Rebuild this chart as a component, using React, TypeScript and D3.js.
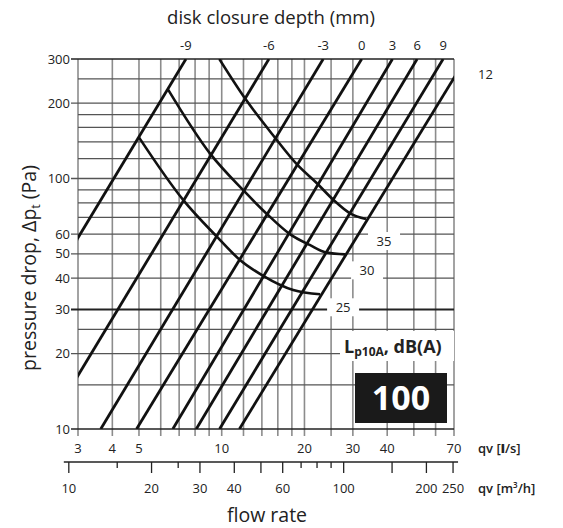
import * as d3 from "d3";

// grid lines / ticks (l/s and Pa)
const flowGrid = [3, 4, 5, 6, 7, 8, 9, 10, 12, 14, 16, 18, 20, 25, 30, 40, 50, 60, 70];
const flowLabels = [3, 4, 5, 10, 20, 30, 40, 70];
const dpGrid = [10, 15, 20, 25, 30, 40, 50, 60, 70, 80, 90, 100, 120, 140, 160, 180, 200, 250, 300];
const dpLabels = [10, 20, 30, 40, 50, 60, 100, 200, 300];
const m3hTicks = [10, 15, 20, 25, 30, 40, 50, 60, 70, 80, 90, 100, 150, 200, 250];
const m3hLabels = [10, 20, 30, 40, 60, 100, 200, 250];

// disk closure settings: flow (l/s) where each line crosses 10 Pa and 300 Pa
const settings = [-9, -6, -3, 0, 3, 6, 9, 12];
const flowAt10Pa = [1.14, 2.29, 3.63, 4.9, 6.64, 8.08, 9.82, 11.6];
const flowAt300Pa = [7.41, 14.85, 23.4, 32.3, 41.8, 51.4, 63.9, 77.1];

// sound level curves, [flow l/s, pressure drop Pa]
const noiseLevels = [25, 30, 35];
const noise25 = [[5.0, 146], [7.25, 82], [9.6, 58.6], [11.65, 47.3], [14.2, 40.8], [18.2, 35.9], [22.8, 34.5]];
const noise30 = [[6.39, 226], [9.06, 126], [12.0, 89.6], [14.6, 72.2], [17.7, 60], [20.9, 54.3], [24.1, 50.6], [28.1, 49.8]];
const noise35 = [[9.8, 300], [12.15, 209], [15.4, 148.5], [18.9, 113], [22.2, 95.7], [25.5, 82.1], [29.3, 72.6], [33.5, 68.9]];

const W = 563;
const H = 528;
const left = 78, right = 454, top = 59, bottom = 429;
const font = "'Open Sans', 'DejaVu Sans', sans-serif";

export default function App() {
  const x = d3.scaleLog().domain([3, 70]).range([left, right]);
  const y = d3.scaleLog().domain([10, 300]).range([bottom, top]);
  const xm = (v: number) => x(v / 3.6);

  const straight = d3.line();
  const curve = d3
    .line<number[]>()
    .x((d) => x(d[0]))
    .y((d) => y(d[1]))
    .curve(d3.curveMonotoneX);

  const curves = [noise25, noise30, noise35];
  const labelOff = [
    [23, 13],
    [22, 16],
    [18, 22],
  ];

  const ax2 = 462;
  // where the last setting line leaves the right edge
  const last = settings.length - 1;
  const tEdge = Math.log(70 / flowAt10Pa[last]) / Math.log(flowAt300Pa[last] / flowAt10Pa[last]);
  const dpEdge = 10 * Math.pow(30, tEdge);

  return (
    <svg
      width={W}
      height={H}
      style={{ position: "absolute", left: 0, top: 0, background: "#fff" }}
      fontFamily={font}
    >
      <defs>
        <clipPath id="plot">
          <rect x={left} y={top} width={right - left} height={bottom - top} />
        </clipPath>
      </defs>

      {/* vertical grid */}
      {flowGrid.map((v) => (
        <line key={"v" + v} x1={x(v)} x2={x(v)} y1={top} y2={bottom + 7} stroke="#8c8c8c" strokeWidth={1.6} />
      ))}
      {/* horizontal grid */}
      {dpGrid.map((v) => (
        <line
          key={"h" + v}
          x1={dpLabels.includes(v) ? left - 7 : left}
          x2={right}
          y1={y(v)}
          y2={y(v)}
          stroke={v === 30 || v === 10 || v === 300 ? "#222" : "#555"}
          strokeWidth={v === 30 ? 1.8 : 1.3}
        />
      ))}

      {/* setting lines */}
      <g clipPath="url(#plot)">
        {settings.map((s, i) => (
          <path
            key={"s" + s}
            d={straight([
              [x(flowAt10Pa[i]), y(10)],
              [x(flowAt300Pa[i]), y(300)],
            ]) as string}
            stroke="#111"
            strokeWidth={2.8}
            fill="none"
          />
        ))}
        {curves.map((c, i) => (
          <path key={"n" + i} d={curve(c) as string} stroke="#111" strokeWidth={2.6} fill="none" />
        ))}
      </g>

      {/* noise labels */}
      {curves.map((c, i) => {
        const e = c[c.length - 1];
        const cx = x(e[0]) + labelOff[i][0];
        const cy = y(e[1]) + labelOff[i][1];
        return (
          <g key={"nl" + i}>
            <rect x={cx - 16} y={cy - 9} width={32} height={18} fill="#fff" />
            <text x={cx} y={cy + 5} textAnchor="middle" fontSize={13} fill="#222">
              {noiseLevels[i]}
            </text>
          </g>
        );
      })}

      {/* L label */}
      <rect x={340} y={331} width={114} height={30} fill="#fff" />
      <text x={344} y={353} fontSize={18} fontWeight="bold" fill="#222">
        L<tspan fontSize={12} dy={3}>p10A</tspan>
        <tspan dy={-3}>, dB(A)</tspan>
      </text>
      <rect x={355} y={373} width={92} height={50} fill="#1a1a1a" />
      <text x={401} y={410} textAnchor="middle" fontSize={34} fontWeight="bold" fill="#fff">
        100
      </text>

      {/* y labels */}
      {dpLabels.map((v) => (
        <text key={"yl" + v} x={left - 8} y={y(v) + 4.5} textAnchor="end" fontSize={13} fill="#222">
          {v}
        </text>
      ))}

      {/* top labels */}
      {settings.map((s, i) =>
        i === last ? (
          <text key={"tl" + s} x={right + 24} y={y(dpEdge) + 1} fontSize={13} fill="#222">
            {s}
          </text>
        ) : (
          <text key={"tl" + s} x={x(flowAt300Pa[i])} y={top - 9} textAnchor="middle" fontSize={13} fill="#222">
            {s}
          </text>
        )
      )}

      {/* bottom l/s labels */}
      {flowLabels.map((v) => (
        <text key={"xl" + v} x={x(v)} y={bottom + 24} textAnchor="middle" fontSize={13} fill="#222">
          {v}
        </text>
      ))}
      <text x={478} y={bottom + 24} fontSize={13} fontWeight={600} fill="#222">
        qv [<tspan fontWeight="900">l</tspan>/s]
      </text>

      {/* second axis m3/h */}
      <line x1={xm(10) - 5} x2={xm(250) + 5} y1={ax2} y2={ax2} stroke="#222" strokeWidth={1.3} />
      {m3hTicks.map((v) => (
        <line
          key={"mt" + v}
          x1={xm(v)}
          x2={xm(v)}
          y1={ax2}
          y2={ax2 + (m3hLabels.includes(v) || v === 50 || v === 150 ? 11 : 6)}
          stroke="#222"
          strokeWidth={1.3}
        />
      ))}
      {m3hLabels.map((v) => (
        <text key={"ml" + v} x={xm(v)} y={ax2 + 31} textAnchor="middle" fontSize={13} fill="#222">
          {v}
        </text>
      ))}
      <text x={478} y={ax2 + 31} fontSize={13} fontWeight={600} fill="#222">
        qv [m<tspan fontSize={8} dy={-5}>3</tspan>
        <tspan dy={5}>/h]</tspan>
      </text>

      {/* titles */}
      <text x={271} y={24} textAnchor="middle" fontSize={18.5} fill="#222">
        disk closure depth (mm)
      </text>
      <text x={267} y={522} textAnchor="middle" fontSize={19.5} fill="#222">
        flow rate
      </text>
      <text transform="translate(36,268) rotate(-90)" textAnchor="middle" fontSize={19.5} fill="#222">
        pressure drop, Δp<tspan fontSize={12.5} dy={4}>t</tspan>
        <tspan dy={-4}> (Pa)</tspan>
      </text>
    </svg>
  );
}
